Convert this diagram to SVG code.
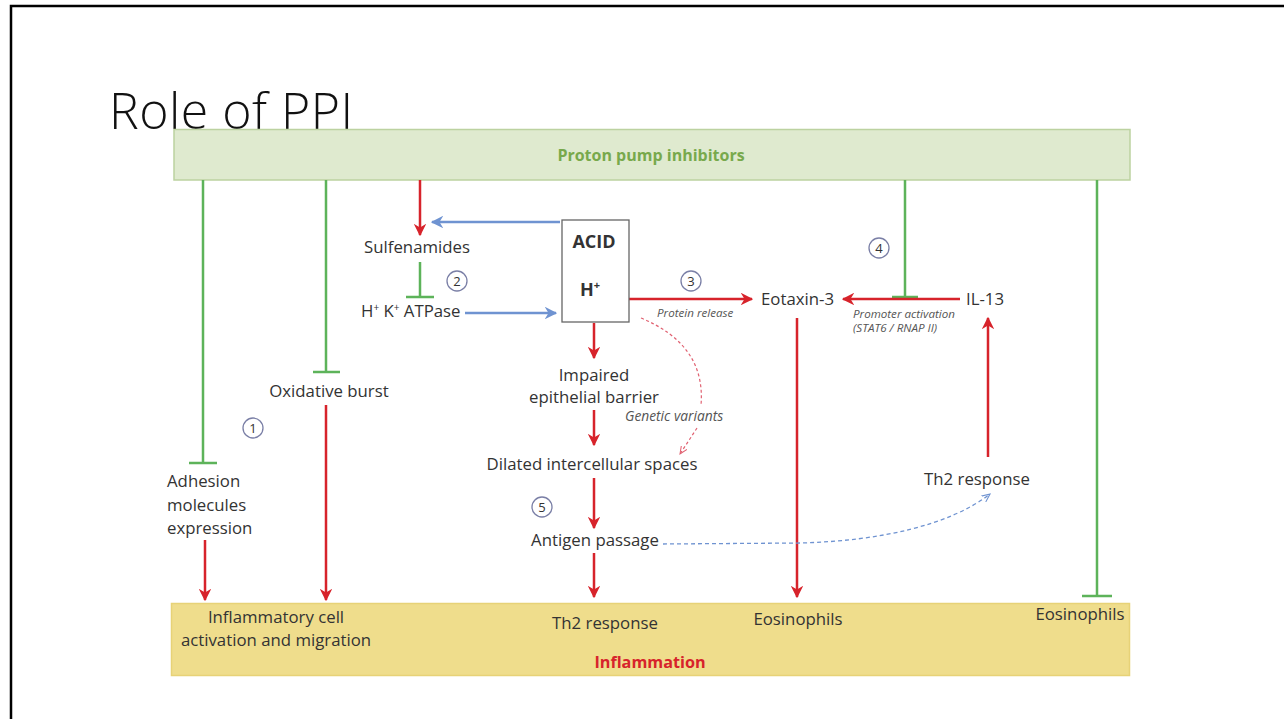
<svg xmlns="http://www.w3.org/2000/svg" width="1284" height="719" viewBox="0 0 1284 719">
<defs>
<style>
.t{font-family:"Open Sans","Liberation Sans",sans-serif;font-size:16.8px;fill:#333}
.b{font-weight:bold}
.i{font-style:italic;font-size:11.6px;fill:#555}
.gi{font-style:italic;font-size:13.8px;fill:#555}
.red{stroke:#d7232b;stroke-width:2.5;fill:none}
.grn{stroke:#5db35a;stroke-width:2.5;fill:none}
.blu{stroke:#6f93d1;stroke-width:2.5;fill:none}
.num{fill:#fff;stroke:#7a7fa6;stroke-width:1.3}
.nt{font-family:"Open Sans","Liberation Sans",sans-serif;font-size:13px;fill:#333;text-anchor:middle}
</style>
<marker id="ar" viewBox="0 0 10 10" refX="9" refY="5" markerWidth="5" markerHeight="5" orient="auto"><path d="M0,0 L10,5 L0,10 L3,5 Z" fill="#d7232b"/></marker>
<marker id="ab" viewBox="0 0 10 10" refX="9" refY="5" markerWidth="5" markerHeight="5" orient="auto"><path d="M0,0 L10,5 L0,10 L3,5 Z" fill="#6f93d1"/></marker>
<marker id="adr" viewBox="0 0 10 10" refX="9" refY="5" markerWidth="7" markerHeight="7" orient="auto"><path d="M0,1 L9,5 L0,9" fill="none" stroke="#e06070" stroke-width="1.2"/></marker>
<marker id="adb" viewBox="0 0 10 10" refX="9" refY="5" markerWidth="7" markerHeight="7" orient="auto"><path d="M0,1 L9,5 L0,9" fill="none" stroke="#6f93d1" stroke-width="1.2"/></marker>
</defs>
<rect width="1284" height="719" fill="#fff"/>
<path d="M11,725 L11,6 L1290,6" fill="none" stroke="#000" stroke-width="2.5"/>
<text x="109" y="129" font-family="'Open Sans','Liberation Sans',sans-serif" font-weight="300" font-size="50" letter-spacing="0.5" fill="#111">Role of PPI</text>

<g id="ppi"><rect x="174" y="129.5" width="956" height="50.5" fill="#dfeacf" stroke="#bcd2a0" stroke-width="1.5"/>
<text x="651" y="161" class="t b" text-anchor="middle" style="fill:#78a94c;font-size:16px">Proton pump inhibitors</text></g>
<g id="inflammation"><rect x="171.5" y="603.5" width="958" height="72" fill="#efdd8c" stroke="#e7d277" stroke-width="1.5"/></g>

<g id="connectors">
<path class="grn" d="M203,180 V463 M189,463 H217"/>
<path class="grn" d="M326,180 V372 M313,372 H340"/>
<path class="grn" d="M905,180 V297 M892,297 H918"/>
<path class="grn" d="M1097,180 V596 M1082,596 H1112"/>
<path class="grn" d="M420,262 V297 M406,297 H434"/>
<path class="red" d="M420,180 V235" marker-end="url(#ar)"/>
<path class="red" d="M205,540 V600" marker-end="url(#ar)"/>
<path class="red" d="M326,405 V600" marker-end="url(#ar)"/>
<path class="red" d="M594,323 V358" marker-end="url(#ar)"/>
<path class="red" d="M594,410 V445" marker-end="url(#ar)"/>
<path class="red" d="M594,478 V528" marker-end="url(#ar)"/>
<path class="red" d="M594,553 V597" marker-end="url(#ar)"/>
<path class="red" d="M797,318 V597" marker-end="url(#ar)"/>
<path class="red" d="M629,299 H752" marker-end="url(#ar)"/>
<path class="red" d="M960,299 H843" marker-end="url(#ar)"/>
<path class="red" d="M988,457 V318" marker-end="url(#ar)"/>
<path class="blu" d="M560,222 H432" marker-end="url(#ab)"/>
<path class="blu" d="M465,313 H556" marker-end="url(#ab)"/>
<path d="M641,318 Q706,345 701,405" fill="none" stroke="#e06070" stroke-width="1.2" stroke-dasharray="3,2.5"/>
<path d="M697,428 L680,454" fill="none" stroke="#e06070" stroke-width="1.2" stroke-dasharray="3,2.5" marker-end="url(#adr)"/>
<path d="M663,544 L800,543 C880,541 950,525 990,494" fill="none" stroke="#6f93d1" stroke-width="1.3" stroke-dasharray="4,3" marker-end="url(#adb)"/>
</g>

<g id="acid"><rect x="562" y="220" width="67" height="102" fill="#fff" stroke="#666" stroke-width="1.3"/>
<text x="594" y="248" class="t b" text-anchor="middle" style="font-size:18px">ACID</text>
<text x="590" y="296" class="t b" text-anchor="middle" style="font-size:18px">H<tspan font-size="11" dy="-7">+</tspan></text></g>

<g id="sulfenamides"><text x="417" y="253" class="t" text-anchor="middle">Sulfenamides</text></g>
<g id="atpase"><text x="361" y="317" class="t">H<tspan font-size="10" dy="-6">+</tspan><tspan dy="6"> K</tspan><tspan font-size="10" dy="-6">+</tspan><tspan dy="6"> ATPase</tspan></text></g>
<g id="eotaxin"><text x="761" y="305" class="t">Eotaxin-3</text></g>
<g id="il13"><text x="966" y="305" class="t">IL-13</text></g>
<g id="labels">
<text x="657" y="317" class="t i">Protein release</text>
<text x="853" y="318" class="t i">Promoter activation</text>
<text x="853" y="332" class="t i">(STAT6 / RNAP II)</text>
<text x="625" y="421" class="t gi">Genetic variants</text>
</g>
<g id="impaired"><text x="594" y="381" class="t" text-anchor="middle">Impaired</text><text x="594" y="403" class="t" text-anchor="middle">epithelial barrier</text></g>
<g id="dilated"><text x="592" y="470" class="t" text-anchor="middle">Dilated intercellular spaces</text></g>
<g id="antigen"><text x="595" y="546" class="t" text-anchor="middle">Antigen passage</text></g>
<g id="oxidative"><text x="329" y="397" class="t" text-anchor="middle">Oxidative burst</text></g>
<g id="adhesion"><text x="167" y="487" class="t">Adhesion</text><text x="167" y="511" class="t">molecules</text><text x="167" y="534" class="t">expression</text></g>
<g id="th2r"><text x="977" y="485" class="t" text-anchor="middle">Th2 response</text></g>
<g id="bottom-labels">
<text x="276" y="623" class="t" text-anchor="middle">Inflammatory cell</text>
<text x="276" y="646" class="t" text-anchor="middle">activation and migration</text>
<text x="605" y="629" class="t" text-anchor="middle">Th2 response</text>
<text x="798" y="625" class="t" text-anchor="middle">Eosinophils</text>
<text x="1080" y="620" class="t" text-anchor="middle">Eosinophils</text>
<text x="650" y="668" class="t b" text-anchor="middle" style="fill:#d7232b;font-size:16.2px">Inflammation</text>
</g>
<g id="numbers">
<circle cx="253" cy="428" r="10" class="num"/><text x="253" y="432.5" class="nt">1</text>
<circle cx="457" cy="281" r="10" class="num"/><text x="457" y="285.5" class="nt">2</text>
<circle cx="691" cy="281" r="10" class="num"/><text x="691" y="285.5" class="nt">3</text>
<circle cx="879" cy="248" r="10" class="num"/><text x="879" y="252.5" class="nt">4</text>
<circle cx="542" cy="507" r="10" class="num"/><text x="542" y="511.5" class="nt">5</text>
</g>
</svg>
